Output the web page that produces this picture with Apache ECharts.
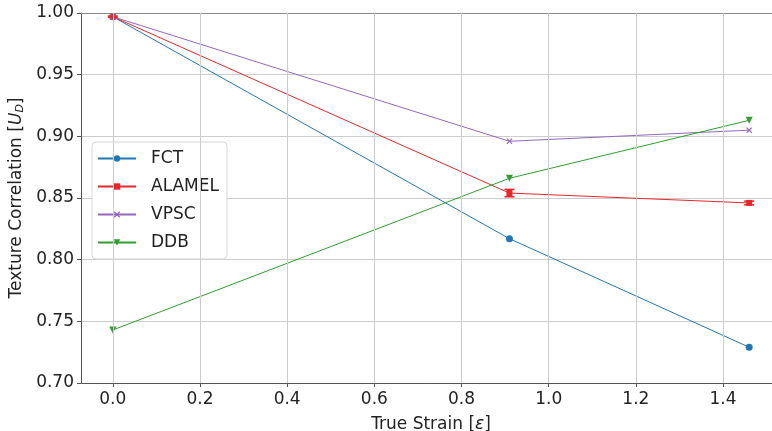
<!DOCTYPE html>
<html>
<head>
<meta charset="utf-8">
<script src="https://cdn.jsdelivr.net/npm/echarts@6/dist/echarts.min.js"></script>
<style>
html,body{margin:0;padding:0;background:#fff;}
#chart{width:772px;height:431px;}
</style>
</head>
<body>
<div id="chart"></div>
<script>
// ---- data ----
const strain = [0, 0.91, 1.46];
const fct = [0.997, 0.817, 0.729];
const alamel = [0.997, 0.854, 0.846];
const alamelErr = [0.0005, 0.003, 0.0015];
const vpsc = [0.997, 0.896, 0.905];
const ddb = [0.743, 0.866, 0.913];
const xTicks = [0.0, 0.2, 0.4, 0.6, 0.8, 1.0, 1.2, 1.4];
const seriesNames = ['FCT', 'ALAMEL', 'VPSC', 'DDB'];

const colors = {FCT:'#1f77b4', ALAMEL:'#e8262a', VPSC:'#9467bd', DDB:'#2ca02c'};
const FONT = 'DejaVu Sans';
const FS = 17;

function pairs(ys){ return strain.map((x,i)=>[x, ys[i]]); }

const chart = echarts.init(document.getElementById('chart'), null, {renderer:'canvas'});

function lineSeries(name, ys, symbol, size){
  return {
    name, type:'line', data:pairs(ys), symbol, symbolSize:size,
    itemStyle:{color:colors[name]},
    lineStyle:{color:colors[name], width:1},
    z:3, animation:false
  };
}

const errData = strain.map((x,i)=>[x, alamel[i]-alamelErr[i], alamel[i]+alamelErr[i]]);
const xMark = 'path://M0,1.4L1.4,0L5,3.6L8.6,0L10,1.4L6.4,5L10,8.6L8.6,10L5,6.4L1.4,10L0,8.6L3.6,5Z';

const option = {
  animation:false,
  backgroundColor:'#fff',
  textStyle:{fontFamily:FONT},
  grid:{left:81, top:13, right:-9, bottom:48, show:false, containLabel:false, outerBoundsMode:'none'},
  legend:{
    data:seriesNames,
    orient:'vertical', left:92, top:142,
    itemWidth:38, itemHeight:8, itemGap:11,
    padding:[8,8,8,5],
    backgroundColor:'#fff', borderColor:'#d6d6d6', borderWidth:1, borderRadius:4,
    textStyle:{fontFamily:FONT, fontSize:FS, color:'#222', padding:[0,0,0,10]}
  },
  xAxis:[{
    type:'value', min:-0.073, max:1.533,
    name:'True Strain [{i|ε}]', nameLocation:'middle', nameGap:33,
    nameTextStyle:{fontFamily:FONT, fontSize:FS, color:'#222',
      rich:{i:{fontFamily:FONT, fontStyle:'italic', fontSize:FS, color:'#222'}}},
    axisLine:{onZero:false, lineStyle:{color:'#555', width:1}},
    axisTick:{show:true, length:4, inside:false, customValues:xTicks, lineStyle:{color:'#555'}},
    axisLabel:{customValues:xTicks, fontFamily:FONT, fontSize:FS, color:'#222', margin:8,
      formatter:v=>v.toFixed(1)},
    splitLine:{show:false}
  },{
    type:'value', position:'top', min:-0.073, max:1.533,
    axisLine:{show:true, onZero:false, lineStyle:{color:'#8a8a8a', width:1}},
    axisTick:{show:false}, axisLabel:{show:false}, splitLine:{show:false}
  }],
  yAxis:{
    type:'value', min:0.7, max:1.0, interval:0.05,
    name:'Texture Correlation [{i|U}{s|D}]', nameLocation:'middle', nameGap:53, nameRotate:90,
    nameTextStyle:{fontFamily:FONT, fontSize:FS, color:'#222',
      rich:{i:{fontFamily:FONT, fontStyle:'italic', fontSize:FS, color:'#222'},
            s:{fontFamily:FONT, fontStyle:'italic', fontSize:11, color:'#222', verticalAlign:'bottom', padding:[7,0,0,0]}}},
    axisLine:{show:true, onZero:false, lineStyle:{color:'#555', width:1}},
    axisTick:{show:true, length:4, lineStyle:{color:'#555'}},
    axisLabel:{fontFamily:FONT, fontSize:FS, color:'#222', margin:7, formatter:v=>v.toFixed(2)},
    splitLine:{show:true, lineStyle:{color:'#cccccc', width:1}}
  },
  series:[
    {
      name:'grid-x', type:'line', data:[], silent:true, z:1,
      markLine:{silent:true, symbol:['none','none'], label:{show:false},
        lineStyle:{color:'#cccccc', width:1, type:'solid'},
        emphasis:{disabled:true},
        data:xTicks.map(v=>({xAxis:v}))}
    },
    lineSeries('FCT', fct, 'circle', 7),
    lineSeries('ALAMEL', alamel, 'rect', 6),
    lineSeries('VPSC', vpsc, xMark, 6),
    lineSeries('DDB', ddb, 'path://M0,0L10,0L5,9Z', 7),
    {
      name:'ALAMEL err', type:'custom', z:4, silent:true,
      data:errData,
      renderItem:function(params, api){
        const x = api.value(0);
        const lo = api.coord([x, api.value(1)]);
        const hi = api.coord([x, api.value(2)]);
        const hw = 5;
        const style = {stroke:colors.ALAMEL, lineWidth:1.5, fill:null};
        return {type:'group', children:[
          {type:'line', shape:{x1:lo[0], y1:lo[1], x2:hi[0], y2:hi[1]}, style},
          {type:'line', shape:{x1:lo[0]-hw, y1:lo[1], x2:lo[0]+hw, y2:lo[1]}, style},
          {type:'line', shape:{x1:hi[0]-hw, y1:hi[1], x2:hi[0]+hw, y2:hi[1]}, style}
        ]};
      }
    }
  ]
};
chart.setOption(option);
</script>
</body>
</html>
